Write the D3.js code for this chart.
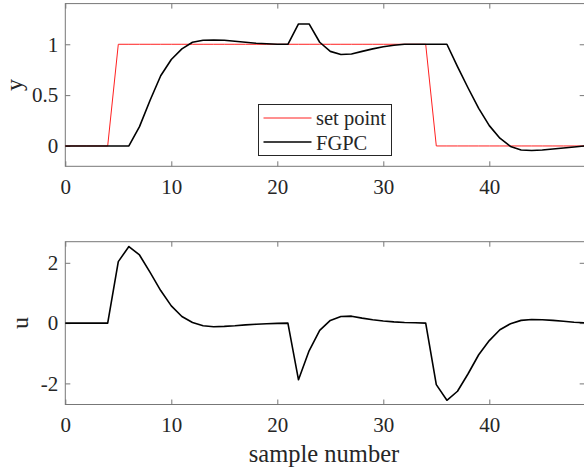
<!DOCTYPE html>
<html>
<head>
<meta charset="utf-8">
<script src="https://cdn.jsdelivr.net/npm/d3@7"></script>
<style>
  body { margin: 0; background: #fff; }
  svg text { font-family: "Liberation Serif", "Times New Roman", serif; fill: #262626; }
</style>
</head>
<body>
<div id="chart"></div>
<script>
// sample index 0..49
var muestras = d3.range(0, 50);

var setPoint = [0,0,0,0,0, 1,1,1,1,1, 1,1,1,1,1, 1,1,1,1,1, 1,1,1,1,1, 1,1,1,1,1,
                1,1,1,1,1, 0,0,0,0,0, 0,0,0,0,0, 0,0,0,0,0];

var salidaFGPC = [0,0,0,0,0, 0,0,0.19,0.45,0.69, 0.85,0.955,1.02,1.04,1.042, 1.04,1.03,1.02,1.01,1.005,
                  1.0,1.0,1.2,1.2,1.02, 0.93,0.90,0.905,0.93,0.955, 0.975,0.99,1.0,1.0,1.0,
                  1.0,1.0,0.78,0.57,0.37, 0.2,0.076,-0.005,-0.04,-0.045, -0.04,-0.03,-0.02,-0.01,0];

var controlU = [0,0,0,0,0, 2.04,2.54,2.26,1.68,1.08, 0.57,0.22,0.02,-0.09,-0.12, -0.11,-0.09,-0.06,-0.04,-0.02,
                -0.01,0,-1.88,-0.92,-0.24, 0.09,0.22,0.23,0.165,0.11, 0.07,0.04,0.02,0.01,0,
                -2.04,-2.56,-2.26,-1.68,-1.05, -0.58,-0.22,-0.02,0.09,0.12, 0.11,0.09,0.06,0.03,0.01];

var ticksX = [0, 10, 20, 30, 40];
var ticksY1 = [0, 0.5, 1];
var ticksY2 = [-2, 0, 2];

var W = 584, H = 468;
var svg = d3.select('#chart').append('svg').attr('width', W).attr('height', H);

var xScale = d3.scaleLinear().domain([0, 49]).range([65.3, 584.7]);
var formato = function(d) { return String(d); };   // "-2" con guion normal

// Dibuja un panel con eje, caja y ticks
function panel(top, bottom, yDomain, yTicks, yLabel, labelX) {
    var yScale = d3.scaleLinear().domain(yDomain).range([bottom, top]);
    var g = svg.append('g');

    g.append('rect')
        .attr('x', xScale.range()[0]).attr('y', top)
        .attr('width', xScale.range()[1] - xScale.range()[0]).attr('height', bottom - top)
        .attr('fill', 'none').attr('stroke', '#777').attr('stroke-width', 1);

    var xAxis = d3.axisBottom(xScale).tickValues(ticksX).tickSize(-5).tickPadding(13).tickFormat(formato);
    var xAxisG = g.append('g').attr('transform', 'translate(0,' + bottom + ')').call(xAxis);
    var xTop = g.append('g').attr('transform', 'translate(0,' + top + ')')
        .call(d3.axisTop(xScale).tickValues(ticksX).tickSize(-5).tickFormat(''));

    var yAxis = d3.axisLeft(yScale).tickValues(yTicks).tickSize(-5).tickPadding(7).tickFormat(formato);
    var yAxisG = g.append('g').attr('transform', 'translate(' + xScale.range()[0] + ',0)').call(yAxis);
    var yRight = g.append('g').attr('transform', 'translate(' + xScale.range()[1] + ',0)')
        .call(d3.axisRight(yScale).tickValues(yTicks).tickSize(-5).tickFormat(''));

    [xAxisG, xTop, yAxisG, yRight].forEach(function(a) {
        a.select('.domain').remove();
        a.selectAll('line').attr('stroke', '#777');
        a.selectAll('text').style('font-size', '21px')
            .style('font-family', '"Liberation Serif", serif').attr('fill', '#262626');
    });

    g.append('text')
        .attr('transform', 'translate(' + labelX + ',' + ((top + bottom) / 2) + ') rotate(-90)')
        .attr('text-anchor', 'middle')
        .style('font-size', '24px')
        .text(yLabel);

    return yScale;
}

var y1 = panel(3.6, 166.3, [-0.2, 1.4], ticksY1, 'y', 22);
var y2 = panel(241.7, 404.5, [-2.7, 2.7], ticksY2, 'u', 28);

var linea = function(ys) {
    return d3.line().x(function(d, i) { return xScale(muestras[i]); }).y(function(d) { return ys(d); });
};

svg.append('path').datum(setPoint)
    .attr('fill', 'none').attr('stroke', '#ff2020').attr('stroke-width', 1)
    .attr('d', linea(y1));
svg.append('path').datum(salidaFGPC)
    .attr('fill', 'none').attr('stroke', '#000').attr('stroke-width', 1.6)
    .attr('stroke-linejoin', 'round')
    .attr('d', linea(y1));
svg.append('path').datum(controlU)
    .attr('fill', 'none').attr('stroke', '#000').attr('stroke-width', 1.6)
    .attr('stroke-linejoin', 'round')
    .attr('d', linea(y2));

// Etiqueta eje X
svg.append('text')
    .attr('x', 324).attr('y', 462)
    .attr('text-anchor', 'middle')
    .style('font-size', '24.5px')
    .text('sample number');

// Leyenda
var legendData = [
    { label: 'set point', color: '#ff2020', w: 1 },
    { label: 'FGPC', color: '#000', w: 1.6 }
];
var legend = svg.append('g').attr('transform', 'translate(258.5,104.5)');
legend.append('rect').attr('width', 133).attr('height', 51)
    .attr('fill', '#fff').attr('stroke', '#262626').attr('stroke-width', 1);
legend.selectAll('line').data(legendData).enter().append('line')
    .attr('x1', 5).attr('x2', 53)
    .attr('y1', function(d, i) { return 13.5 + i * 24; })
    .attr('y2', function(d, i) { return 13.5 + i * 24; })
    .attr('stroke', function(d) { return d.color; })
    .attr('stroke-width', function(d) { return d.w; });
legend.selectAll('text').data(legendData).enter().append('text')
    .attr('x', 57.5)
    .attr('y', function(d, i) { return 20.5 + i * 24.5; })
    .style('font-size', '20.5px')
    .text(function(d) { return d.label; });
</script>
</body>
</html>
